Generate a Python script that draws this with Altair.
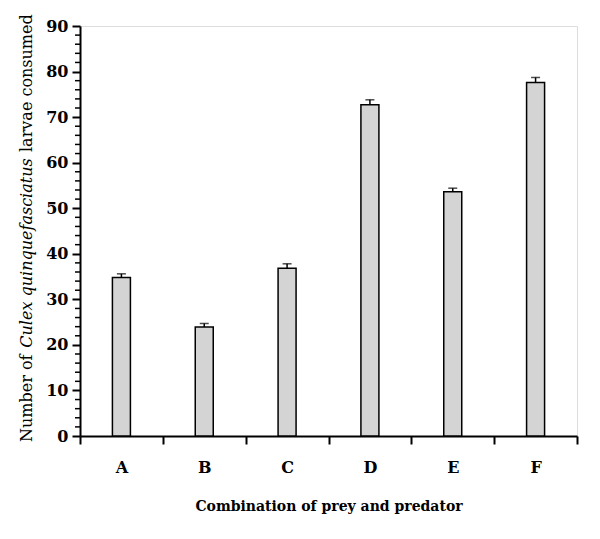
import altair as alt
import pandas as pd

categories = ["A", "B", "C", "D", "E", "F"]
means = [34.8, 23.9, 36.8, 72.7, 53.6, 77.6]
errors = [0.8, 0.8, 1.0, 1.1, 0.8, 1.1]
major_ticks = list(range(0, 91, 10))
minor_ticks = [v for v in range(0, 91, 2) if v % 10 != 0]

df = pd.DataFrame({"cat": categories, "mean": means, "err": errors})
df["upper"] = df["mean"] + df["err"]

FONT = "DejaVu Serif"

x = alt.X(
    "cat:N",
    sort=categories,
    scale=alt.Scale(paddingInner=0, paddingOuter=0),
    axis=alt.Axis(
        title="Combination of prey and predator",
        titleFont=FONT, titleFontSize=14, titleFontWeight="bold", titleColor="black",
        titlePadding=24,
        labelFont=FONT, labelFontSize=16, labelFontWeight="bold", labelColor="black",
        labelAngle=0, labelPadding=15,
        tickBand="extent", tickSize=8, tickWidth=2, tickColor="black",
        domainColor="black", domainWidth=2,
    ),
)
yscale = alt.Scale(domain=[0, 90], nice=False)

bars = alt.Chart(df).mark_bar(
    width=18, fill="#d4d4d4", stroke="black", strokeWidth=1.5
).encode(
    x=x,
    y=alt.Y(
        "mean:Q",
        scale=yscale,
        axis=alt.Axis(
            title=None,
            values=major_ticks,
            labelFont=FONT, labelFontSize=16, labelFontWeight="bold", labelColor="black",
            labelPadding=4,
            tickSize=8, tickWidth=2, tickColor="black",
            domainColor="black", domainWidth=2, grid=False,
        ),
    ),
)

minor = alt.Chart(pd.DataFrame({"v": minor_ticks})).mark_rule(
    color="black", strokeWidth=1.5
).encode(
    y=alt.Y("v:Q", scale=yscale),
    x=alt.value(-5),
    x2=alt.value(0),
)

err_rule = alt.Chart(df).mark_rule(color="black", strokeWidth=1.5).encode(
    x=alt.X("cat:N", sort=categories),
    y=alt.Y("mean:Q", scale=yscale),
    y2="upper:Q",
)
err_cap = alt.Chart(df).mark_tick(color="black", thickness=1.5, size=9).encode(
    x=alt.X("cat:N", sort=categories),
    y=alt.Y("upper:Q", scale=yscale),
)

t1 = alt.Chart(pd.DataFrame({"t": ["Number of"]})).mark_text(
    font=FONT, fontSize=16, angle=270, align="left", baseline="middle", color="black"
).encode(text="t:N", x=alt.value(-53), y=alt.value(416))
t2 = alt.Chart(pd.DataFrame({"t": ["Culex quinquefasciatus"]})).mark_text(
    font=FONT, fontSize=16, fontStyle="italic", angle=270, align="center", baseline="middle", color="black"
).encode(text="t:N", x=alt.value(-53), y=alt.value(227))
t3 = alt.Chart(pd.DataFrame({"t": ["larvae consumed"]})).mark_text(
    font=FONT, fontSize=16, angle=270, align="left", baseline="middle", color="black"
).encode(text="t:N", x=alt.value(-53), y=alt.value(126))

chart = alt.layer(bars, minor, err_rule, err_cap, t1, t2, t3).properties(
    width=497, height=410,
    autosize=alt.AutoSizeParams(type="none"),
    padding={"left": 72, "top": 18, "right": 15, "bottom": 95},
).configure_view(stroke=None).configure(background="white")

chart.save("out.html", embed_options={"renderer": "svg", "actions": False})
